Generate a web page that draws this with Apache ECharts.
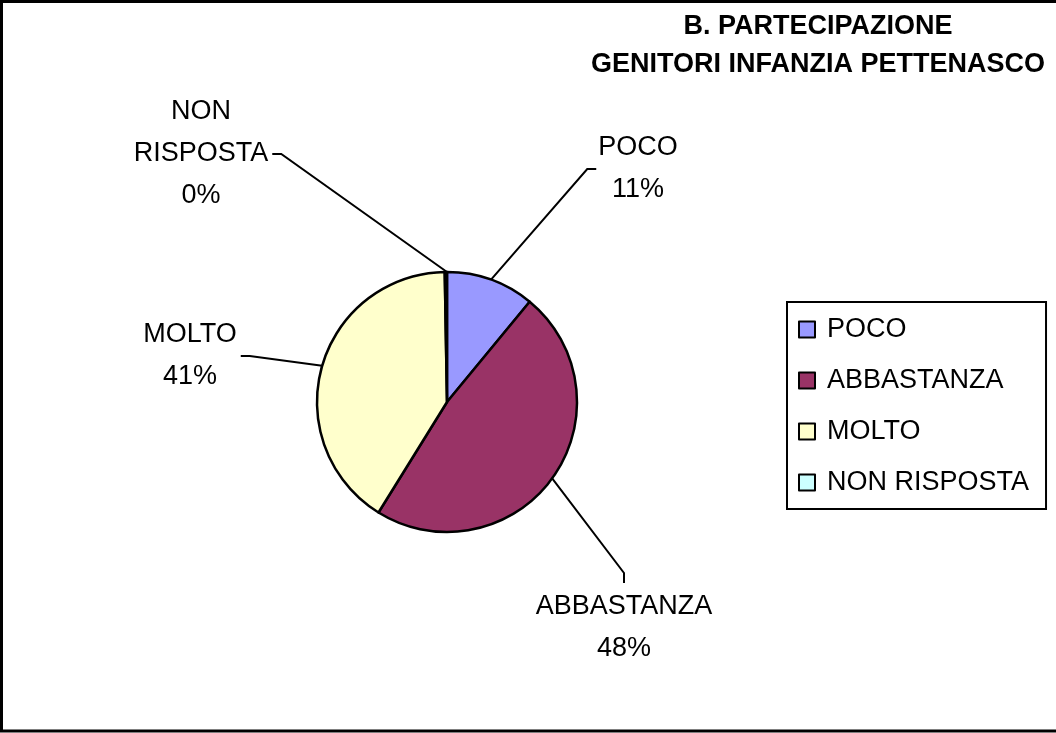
<!DOCTYPE html>
<html>
<head>
<meta charset="utf-8">
<script src="https://cdn.jsdelivr.net/npm/echarts@6/dist/echarts.min.js"></script>
<style>
html,body{margin:0;padding:0;background:#fff;}
#chart{width:1056px;height:733px;}
</style>
</head>
<body>
<div id="chart"></div>
<script>
// ---- data ----
const categories = ['POCO', 'ABBASTANZA', 'MOLTO', 'NON RISPOSTA'];
const values = [11, 48, 41, 0];
const titleText = 'B. PARTECIPAZIONE\nGENITORI INFANZIA PETTENASCO';

// ---- style ----
const colors = ['#9999FF', '#993366', '#FFFFCC', '#CCFFFF'];
const FONT = '"Liberation Sans", Arial, sans-serif';
const pieCenter = [447, 402];
const pieRadius = 130;
// label centre offsets from pie centre and side where the leader line attaches
const labelOffsets = [[191, -233], [177, 226], [-257, -46], [-246, -248]];
const labelSides = ['left', 'top', 'right', 'right'];

const total = values.reduce((a, b) => a + b, 0);
function midAngle(i) {
  let before = 0;
  for (let j = 0; j < i; j++) before += values[j];
  return (before + values[i] / 2) / total * Math.PI * 2;
}

const chart = echarts.init(document.getElementById('chart'), null, {renderer: 'canvas'});
chart.setOption({
  animation: false,
  backgroundColor: '#fff',
  graphic: [
    {type: 'rect', z: -10, silent: true,
     shape: {x: 1.5, y: 1.5, width: 1200, height: 729.5},
     style: {fill: 'none', stroke: '#000', lineWidth: 3}},
    {type: 'text', x: 818, y: 46, silent: true,
     style: {text: titleText, font: 'bold 27px ' + FONT, fill: '#000',
             textAlign: 'center', textVerticalAlign: 'middle', lineHeight: 38}}
  ],
  legend: {
    orient: 'vertical',
    left: 787, top: 302,
    padding: [14, 17, 13, 11],
    borderColor: '#000', borderWidth: 2,
    itemWidth: 16, itemHeight: 16, itemGap: 24,
    icon: 'rect',
    selectedMode: false,
    itemStyle: {borderColor: '#000', borderWidth: 2},
    textStyle: {fontFamily: FONT, fontSize: 27, color: '#000', lineHeight: 27, padding: [0, 0, 0, 7]},
    data: categories
  },
  series: [{
    type: 'pie',
    center: pieCenter,
    radius: pieRadius,
    startAngle: 90,
    clockwise: true,
    minAngle: 1,
    avoidLabelOverlap: false,
    itemStyle: {borderColor: '#000', borderWidth: 2.5},
    label: {
      show: true, position: 'outside',
      fontFamily: FONT, fontSize: 27, color: '#000', lineHeight: 42,
      formatter: p => p.name.replace(' ', '\n') + '\n' + Math.round(p.percent) + '%'
    },
    labelLine: {show: true, lineStyle: {color: '#000', width: 2}},
    emphasis: {disabled: true},
    labelLayout: function (params) {
      const i = params.dataIndex;
      const lx = pieCenter[0] + labelOffsets[i][0];
      const ly = pieCenter[1] + labelOffsets[i][1];
      const w = params.labelRect.width, h = params.labelRect.height;
      const a = midAngle(i);
      const ex = pieCenter[0] + pieRadius * Math.sin(a);
      const ey = pieCenter[1] - pieRadius * Math.cos(a);
      let p1, p2;
      const side = labelSides[i];
      if (side === 'left') { p1 = [lx - w / 2 - 11, ly]; p2 = [lx - w / 2 - 2, ly]; }
      else if (side === 'right') { p1 = [lx + w / 2 + 13, ly]; p2 = [lx + w / 2 + 4, ly]; }
      else { p1 = [lx, ly - h / 2 - 13]; p2 = [lx, ly - h / 2 - 3]; }
      return {x: lx, y: ly, align: 'center', verticalAlign: 'middle',
              labelLinePoints: [[ex, ey], p1, p2]};
    },
    data: categories.map((c, i) => ({name: c, value: values[i], itemStyle: {color: colors[i]}}))
  }]
});
</script>
</body>
</html>
